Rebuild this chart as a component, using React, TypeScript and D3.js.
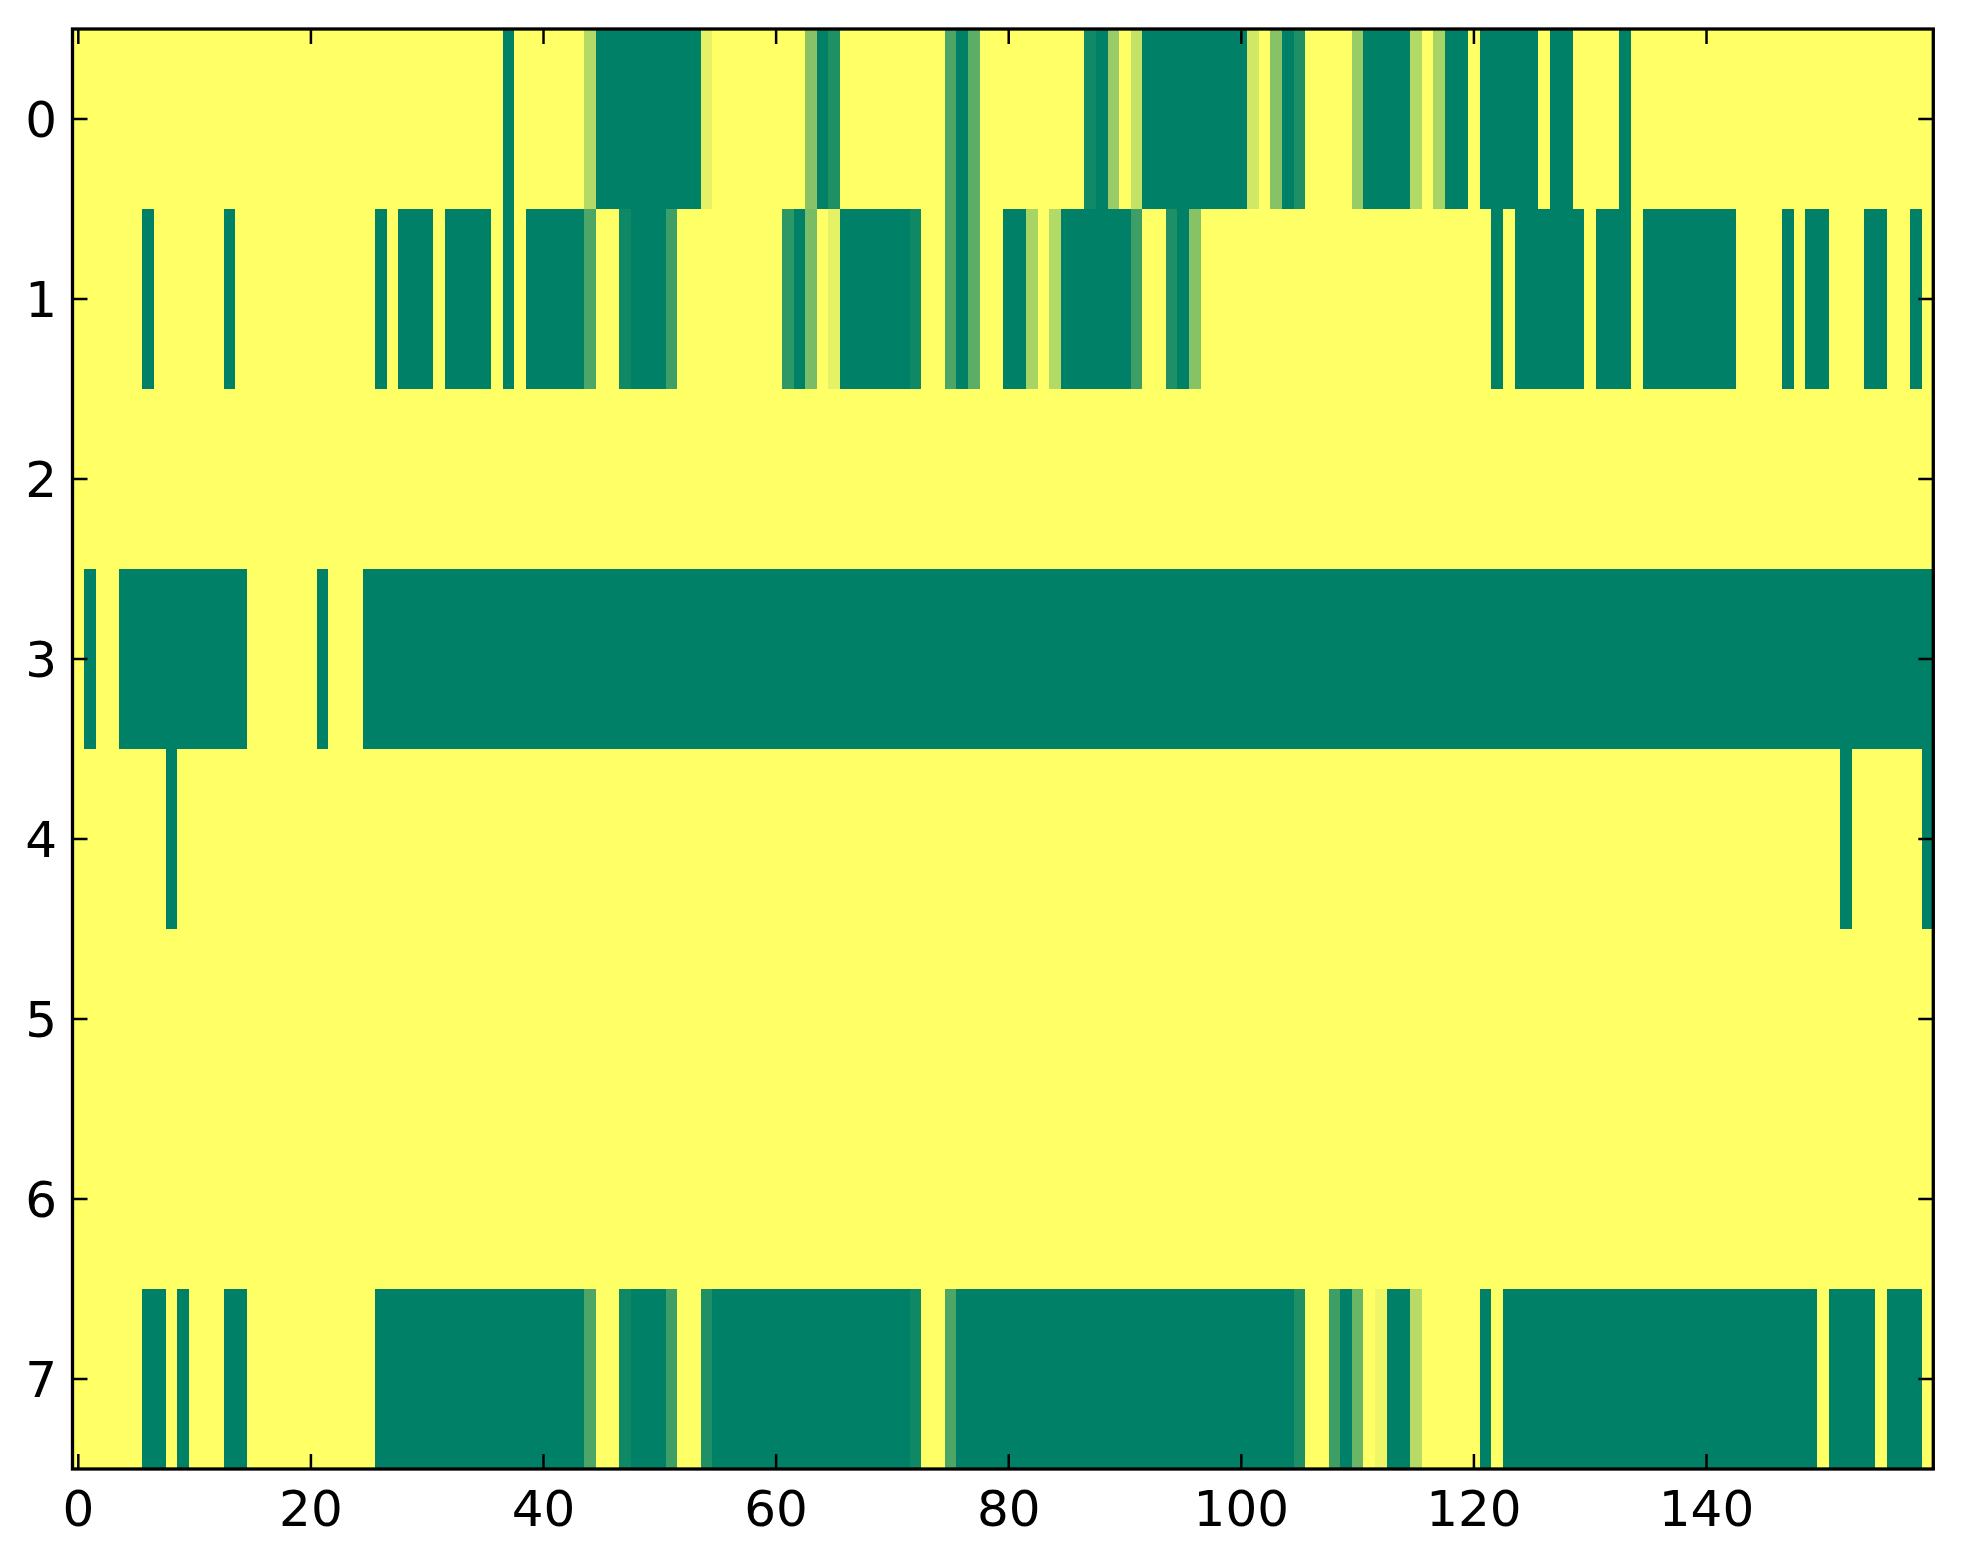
import { useEffect, useRef } from "react";
import * as d3 from "d3";

// one array per image row, 160 columns each (value 0 = green, 1 = yellow)
const row0 = [
  1, 1, 1, 1, 1, 1, 1, 1, 1, 1, 1, 1, 1, 1, 1, 1, 1, 1, 1, 1,
  1, 1, 1, 1, 1, 1, 1, 1, 1, 1, 1, 1, 1, 1, 1, 1, 1, 0, 1, 1,
  1, 1, 1, 1, 0.7, 0, 0, 0, 0, 0, 0, 0, 0, 0, 0.9, 1, 1, 1, 1, 1,
  1, 1, 1, 0.53, 0, 0.12, 1, 1, 1, 1, 1, 1, 1, 1, 1, 0.3, 0, 0.36, 1, 1,
  1, 1, 1, 1, 1, 1, 1, 0.07, 0, 0.6, 1, 0.77, 0, 0, 0, 0, 0, 0, 0, 0,
  0, 0.82, 1, 0.53, 0, 0.12, 1, 1, 1, 1, 0.6, 0, 0, 0, 0, 0.7, 1, 0.66, 0, 0,
  1, 0, 0, 0, 0, 0, 1, 0, 0, 1, 1, 1, 1, 0, 1, 1, 1, 1, 1, 1,
  1, 1, 1, 1, 1, 1, 1, 1, 1, 1, 1, 1, 1, 1, 1, 1, 1, 1, 1, 1,
];
const row1 = [
  1, 1, 1, 1, 1, 1, 0, 1, 1, 1, 1, 1, 1, 0, 1, 1, 1, 1, 1, 1,
  1, 1, 1, 1, 1, 1, 0, 1, 0, 0, 0, 1, 0, 0, 0, 0, 1, 0, 1, 0,
  0, 0, 0, 0, 0.3, 1, 1, 0.06, 0, 0, 0, 0.24, 1, 1, 1, 1, 1, 1, 1, 1,
  1, 0.18, 0, 0.47, 1, 0.9, 0, 0, 0, 0, 0, 0, 0.06, 1, 1, 0.3, 0, 0.36, 1, 1,
  0, 0, 0.66, 1, 0.7, 0, 0, 0, 0, 0, 0, 0.24, 1, 1, 0.12, 0, 0.53, 1, 1, 1,
  1, 1, 1, 1, 1, 1, 1, 1, 1, 1, 1, 1, 1, 1, 1, 1, 1, 1, 1, 1,
  1, 1, 0, 1, 0, 0, 0, 0, 0, 0, 1, 0, 0, 0, 1, 0, 0, 0, 0, 0,
  0, 0, 0, 1, 1, 1, 1, 0, 1, 0, 0, 1, 1, 1, 0, 0, 1, 1, 0, 1,
];
const row2 = [
  1, 1, 1, 1, 1, 1, 1, 1, 1, 1, 1, 1, 1, 1, 1, 1, 1, 1, 1, 1,
  1, 1, 1, 1, 1, 1, 1, 1, 1, 1, 1, 1, 1, 1, 1, 1, 1, 1, 1, 1,
  1, 1, 1, 1, 1, 1, 1, 1, 1, 1, 1, 1, 1, 1, 1, 1, 1, 1, 1, 1,
  1, 1, 1, 1, 1, 1, 1, 1, 1, 1, 1, 1, 1, 1, 1, 1, 1, 1, 1, 1,
  1, 1, 1, 1, 1, 1, 1, 1, 1, 1, 1, 1, 1, 1, 1, 1, 1, 1, 1, 1,
  1, 1, 1, 1, 1, 1, 1, 1, 1, 1, 1, 1, 1, 1, 1, 1, 1, 1, 1, 1,
  1, 1, 1, 1, 1, 1, 1, 1, 1, 1, 1, 1, 1, 1, 1, 1, 1, 1, 1, 1,
  1, 1, 1, 1, 1, 1, 1, 1, 1, 1, 1, 1, 1, 1, 1, 1, 1, 1, 1, 1,
];
const row3 = [
  1, 0, 1, 1, 0, 0, 0, 0, 0, 0, 0, 0, 0, 0, 0, 1, 1, 1, 1, 1,
  1, 0, 1, 1, 1, 0, 0, 0, 0, 0, 0, 0, 0, 0, 0, 0, 0, 0, 0, 0,
  0, 0, 0, 0, 0, 0, 0, 0, 0, 0, 0, 0, 0, 0, 0, 0, 0, 0, 0, 0,
  0, 0, 0, 0, 0, 0, 0, 0, 0, 0, 0, 0, 0, 0, 0, 0, 0, 0, 0, 0,
  0, 0, 0, 0, 0, 0, 0, 0, 0, 0, 0, 0, 0, 0, 0, 0, 0, 0, 0, 0,
  0, 0, 0, 0, 0, 0, 0, 0, 0, 0, 0, 0, 0, 0, 0, 0, 0, 0, 0, 0,
  0, 0, 0, 0, 0, 0, 0, 0, 0, 0, 0, 0, 0, 0, 0, 0, 0, 0, 0, 0,
  0, 0, 0, 0, 0, 0, 0, 0, 0, 0, 0, 0, 0, 0, 0, 0, 0, 0, 0, 0,
];
const row4 = [
  1, 1, 1, 1, 1, 1, 1, 1, 0, 1, 1, 1, 1, 1, 1, 1, 1, 1, 1, 1,
  1, 1, 1, 1, 1, 1, 1, 1, 1, 1, 1, 1, 1, 1, 1, 1, 1, 1, 1, 1,
  1, 1, 1, 1, 1, 1, 1, 1, 1, 1, 1, 1, 1, 1, 1, 1, 1, 1, 1, 1,
  1, 1, 1, 1, 1, 1, 1, 1, 1, 1, 1, 1, 1, 1, 1, 1, 1, 1, 1, 1,
  1, 1, 1, 1, 1, 1, 1, 1, 1, 1, 1, 1, 1, 1, 1, 1, 1, 1, 1, 1,
  1, 1, 1, 1, 1, 1, 1, 1, 1, 1, 1, 1, 1, 1, 1, 1, 1, 1, 1, 1,
  1, 1, 1, 1, 1, 1, 1, 1, 1, 1, 1, 1, 1, 1, 1, 1, 1, 1, 1, 1,
  1, 1, 1, 1, 1, 1, 1, 1, 1, 1, 1, 1, 0, 1, 1, 1, 1, 1, 1, 0,
];
const row5 = [
  1, 1, 1, 1, 1, 1, 1, 1, 1, 1, 1, 1, 1, 1, 1, 1, 1, 1, 1, 1,
  1, 1, 1, 1, 1, 1, 1, 1, 1, 1, 1, 1, 1, 1, 1, 1, 1, 1, 1, 1,
  1, 1, 1, 1, 1, 1, 1, 1, 1, 1, 1, 1, 1, 1, 1, 1, 1, 1, 1, 1,
  1, 1, 1, 1, 1, 1, 1, 1, 1, 1, 1, 1, 1, 1, 1, 1, 1, 1, 1, 1,
  1, 1, 1, 1, 1, 1, 1, 1, 1, 1, 1, 1, 1, 1, 1, 1, 1, 1, 1, 1,
  1, 1, 1, 1, 1, 1, 1, 1, 1, 1, 1, 1, 1, 1, 1, 1, 1, 1, 1, 1,
  1, 1, 1, 1, 1, 1, 1, 1, 1, 1, 1, 1, 1, 1, 1, 1, 1, 1, 1, 1,
  1, 1, 1, 1, 1, 1, 1, 1, 1, 1, 1, 1, 1, 1, 1, 1, 1, 1, 1, 1,
];
const row6 = [
  1, 1, 1, 1, 1, 1, 1, 1, 1, 1, 1, 1, 1, 1, 1, 1, 1, 1, 1, 1,
  1, 1, 1, 1, 1, 1, 1, 1, 1, 1, 1, 1, 1, 1, 1, 1, 1, 1, 1, 1,
  1, 1, 1, 1, 1, 1, 1, 1, 1, 1, 1, 1, 1, 1, 1, 1, 1, 1, 1, 1,
  1, 1, 1, 1, 1, 1, 1, 1, 1, 1, 1, 1, 1, 1, 1, 1, 1, 1, 1, 1,
  1, 1, 1, 1, 1, 1, 1, 1, 1, 1, 1, 1, 1, 1, 1, 1, 1, 1, 1, 1,
  1, 1, 1, 1, 1, 1, 1, 1, 1, 1, 1, 1, 1, 1, 1, 1, 1, 1, 1, 1,
  1, 1, 1, 1, 1, 1, 1, 1, 1, 1, 1, 1, 1, 1, 1, 1, 1, 1, 1, 1,
  1, 1, 1, 1, 1, 1, 1, 1, 1, 1, 1, 1, 1, 1, 1, 1, 1, 1, 1, 1,
];
const row7 = [
  1, 1, 1, 1, 1, 1, 0, 0, 1, 0, 1, 1, 1, 0, 0, 1, 1, 1, 1, 1,
  1, 1, 1, 1, 1, 1, 0, 0, 0, 0, 0, 0, 0, 0, 0, 0, 0, 0, 0, 0,
  0, 0, 0, 0, 0.3, 1, 1, 0.06, 0, 0, 0, 0.24, 1, 1, 0.12, 0, 0, 0, 0, 0,
  0, 0, 0, 0, 0, 0, 0, 0, 0, 0, 0, 0, 0.06, 1, 1, 0.3, 0, 0, 0, 0,
  0, 0, 0, 0, 0, 0, 0, 0, 0, 0, 0, 0, 0, 0, 0, 0, 0, 0, 0, 0,
  0, 0, 0, 0, 0, 0.12, 1, 1, 0.24, 0, 0.42, 1, 0.94, 0, 0, 0.72, 1, 1, 1, 1,
  1, 0, 1, 0, 0, 0, 0, 0, 0, 0, 0, 0, 0, 0, 0, 0, 0, 0, 0, 0,
  0, 0, 0, 0, 0, 0, 0, 0, 0, 0, 1, 0, 0, 0, 0, 1, 0, 0, 0, 1,
];

const rows = [row0, row1, row2, row3, row4, row5, row6, row7];
const xTicks = [0, 20, 40, 60, 80, 100, 120, 140];
const yTicks = [0, 1, 2, 3, 4, 5, 6, 7];

const App = () => {
  const ref = useRef<SVGSVGElement | null>(null);

  useEffect(() => {
    if (!ref.current) return;
    d3.select(ref.current).selectAll("*").remove();

    const width = 1963;
    const height = 1564;
    const left = 72.5;
    const right = 1933.3;
    const top = 29;
    const bottom = 1469;
    const nCols = rows[0].length;
    const nRows = rows.length;

    const svg = d3
      .select(ref.current)
      .attr("width", width)
      .attr("height", height)
      .attr("viewBox", `0 0 ${width} ${height}`);

    svg.append("rect").attr("width", width).attr("height", height).attr("fill", "#fff");

    const x = d3.scaleLinear().domain([-0.5, nCols - 0.5]).range([left, right]);
    const y = d3.scaleLinear().domain([-0.5, nRows - 0.5]).range([top, bottom]);

    // matplotlib "summer" colormap
    const color = d3
      .scaleLinear<string>()
      .domain([0, 1])
      .range(["#008066", "#ffff66"])
      .interpolate(d3.interpolateRgb);

    const cells = rows.flatMap((r, ri) => r.map((v, ci) => ({ ri, ci, v })));

    svg
      .append("g")
      .attr("shape-rendering", "crispEdges")
      .selectAll("rect")
      .data(cells)
      .join("rect")
      .attr("x", (d) => x(d.ci - 0.5))
      .attr("y", (d) => y(d.ri - 0.5))
      .attr("width", (d) => x(d.ci + 0.5) - x(d.ci - 0.5) + 0.4)
      .attr("height", (d) => y(d.ri + 0.5) - y(d.ri - 0.5) + 0.4)
      .attr("fill", (d) => color(d.v));

    const tickLen = 15;
    const ticks = svg.append("g").attr("stroke", "#000").attr("stroke-width", 2.5);

    // x ticks, pointing inward at bottom and top
    xTicks.forEach((t) => {
      ticks.append("line").attr("x1", x(t)).attr("x2", x(t)).attr("y1", bottom).attr("y2", bottom - tickLen);
      ticks.append("line").attr("x1", x(t)).attr("x2", x(t)).attr("y1", top).attr("y2", top + tickLen);
    });
    // y ticks, pointing inward at left and right
    yTicks.forEach((t) => {
      ticks.append("line").attr("x1", left).attr("x2", left + tickLen).attr("y1", y(t)).attr("y2", y(t));
      ticks.append("line").attr("x1", right).attr("x2", right - tickLen).attr("y1", y(t)).attr("y2", y(t));
    });

    // frame
    svg
      .append("rect")
      .attr("x", left)
      .attr("y", top)
      .attr("width", right - left)
      .attr("height", bottom - top)
      .attr("fill", "none")
      .attr("stroke", "#000")
      .attr("stroke-width", 3.3);

    const labels = svg
      .append("g")
      .attr("font-family", "DejaVu Sans")
      .attr("font-size", 50)
      .attr("fill", "#000");

    labels
      .selectAll("text.xl")
      .data(xTicks)
      .join("text")
      .attr("class", "xl")
      .attr("x", (d) => x(d))
      .attr("y", 1526)
      .attr("text-anchor", "middle")
      .text((d) => d);

    labels
      .selectAll("text.yl")
      .data(yTicks)
      .join("text")
      .attr("class", "yl")
      .attr("x", 57)
      .attr("y", (d) => y(d) + 18)
      .attr("text-anchor", "end")
      .text((d) => d);
  }, []);

  return <svg ref={ref} style={{ position: "absolute", left: 0, top: 0 }}></svg>;
};

export default App;
